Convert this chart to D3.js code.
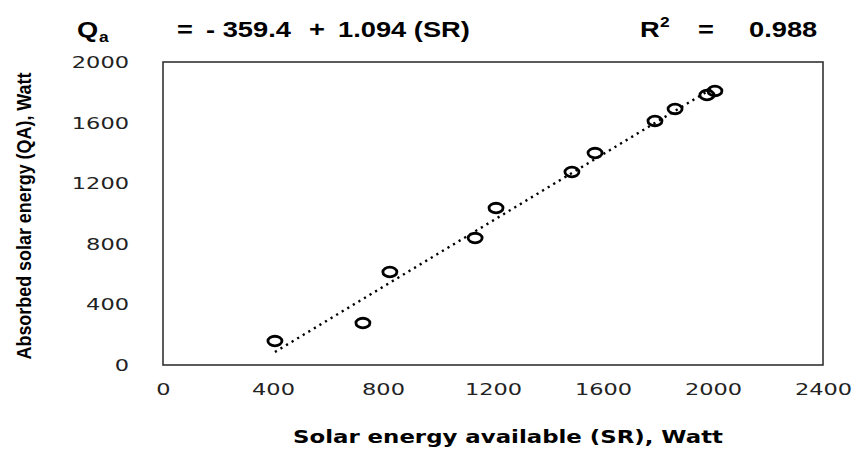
<!DOCTYPE html>
<html>
<head>
<meta charset="utf-8">
<script src="https://cdn.jsdelivr.net/npm/d3@7"></script>
<style>
  html, body { margin: 0; padding: 0; background: #fff; }
  svg { display: block; }
</style>
</head>
<body>
<svg id="chart" width="860" height="450"></svg>
<script>
// ---- data ----
const srValues = [407, 727, 825, 1135, 1211, 1487, 1571, 1789, 1862, 1978, 2007];
const qaValues = [158, 277, 614, 838, 1036, 1274, 1399, 1611, 1690, 1782, 1809];
const xTicks = [0, 400, 800, 1200, 1600, 2000, 2400];
const yTicks = [0, 400, 800, 1200, 1600, 2000];
const intercept = -359.4;
const slope = 1.094;
const r2 = "0.988";
const xTitle = "Solar energy available (SR), Watt";
const yTitle = "Absorbed solar energy (QA), Watt";

const svg = d3.select("#chart");
const x = d3.scaleLinear().domain([0, 2400]).range([163, 823]);
const y = d3.scaleLinear().domain([0, 2000]).range([365, 62]);
const SX = 1.5; // horizontal stretch of text

// plot frame
svg.append("rect")
  .attr("x", x(0)).attr("y", y(2000))
  .attr("width", x(2400) - x(0)).attr("height", y(0) - y(2000))
  .attr("fill", "none").attr("stroke", "#333").attr("stroke-width", 1.6);

// axes (labels only)
const xAxis = d3.axisBottom(x).tickValues(xTicks).tickSize(0).tickPadding(0).tickFormat(d3.format("d"));
const gx = svg.append("g").attr("transform", `translate(0,${y(0) + 30})`).call(xAxis);
gx.select(".domain").remove();
gx.selectAll("text")
  .attr("y", 0).attr("dy", null)
  .attr("font-family", "DejaVu Sans").attr("font-size", 15).attr("fill", "#222")
  .attr("transform", `scale(${SX},1)`);

const yAxis = d3.axisLeft(y).tickValues(yTicks).tickSize(0).tickPadding(0).tickFormat(d3.format("d"));
const gy = svg.append("g").attr("transform", `translate(129,0)`).call(yAxis);
gy.select(".domain").remove();
gy.selectAll("text")
  .attr("x", 0).attr("dy", "0.36em")
  .attr("font-family", "DejaVu Sans").attr("font-size", 15).attr("fill", "#222")
  .attr("transform", `scale(${SX},1)`);

// trend line
const xs = d3.extent(srValues);
const line = d3.line().x(d => x(d)).y(d => y(intercept + slope * d));
svg.append("path")
  .attr("d", line(xs))
  .attr("fill", "none").attr("stroke", "#000").attr("stroke-width", 2.4)
  .attr("stroke-dasharray", "2.2,4.3");

// points
svg.append("g").selectAll("ellipse")
  .data(srValues.map((d, i) => [d, qaValues[i]]))
  .join("ellipse")
  .attr("cx", d => x(d[0])).attr("cy", d => y(d[1]))
  .attr("rx", 7).attr("ry", 4.8)
  .attr("fill", "none").attr("stroke", "#000").attr("stroke-width", 2.8);

// axis titles
svg.append("text")
  .attr("x", 508).attr("y", 443)
  .attr("text-anchor", "middle")
  .attr("font-family", "DejaVu Sans").attr("font-weight", "bold").attr("font-size", 17)
  .attr("textLength", 430).attr("lengthAdjust", "spacingAndGlyphs")
  .attr("fill", "#000")
  .text(xTitle);

svg.append("text")
  .attr("transform", "translate(31,216) rotate(-90)")
  .attr("text-anchor", "middle")
  .attr("font-family", "Liberation Sans").attr("font-weight", "bold").attr("font-size", 20)
  .attr("textLength", 287).attr("lengthAdjust", "spacingAndGlyphs")
  .attr("fill", "#000")
  .text(yTitle);

// equation header
const hdr = svg.append("g").attr("font-family", "Liberation Sans").attr("font-weight", "bold")
  .attr("font-size", 22).attr("fill", "#000");
function htext(xp, yp, t, size) {
  const el = hdr.append("text").attr("x", 0).attr("y", 0)
    .attr("transform", `translate(${xp},${yp}) scale(1.24,1)`).text(t);
  if (size) el.attr("font-size", size);
  return el;
}
htext(77, 37, "Q");
htext(99, 42, "a", 14);
htext(177, 37, "=");
htext(206, 37, "- 359.4");
htext(309, 37, "+");
htext(338, 37, "1.094 (SR)");
htext(640, 37, "R");
htext(660, 27, "2", 14);
htext(698, 37, "=");
htext(749, 37, "0.988");
</script>
</body>
</html>
